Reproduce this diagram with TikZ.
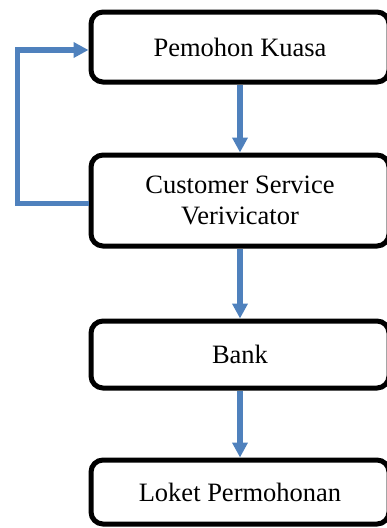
\documentclass[tikz,border=0pt]{standalone}
\usepackage{fontspec}
\setmainfont{Liberation Serif}
\usetikzlibrary{arrows.meta}
\definecolor{flowblue}{RGB}{79,129,189}
\begin{document}
\begin{tikzpicture}[x=1pt,y=1pt,
  stepbox/.style={draw=black, line width=5pt, rounded corners=12pt, fill=white,
    minimum width=298pt, align=center, inner sep=0pt,
    font=\fontsize{26.5}{31}\selectfont},
  flow/.style={draw=flowblue, line width=5.5pt,
    -{Triangle[width=15pt,length=15pt]}}]
  \useasboundingbox (0,0) rectangle (387,-528);
  % process boxes
  \node[stepbox, minimum height=70pt] (b1) at (240,-47) {Pemohon Kuasa};
  \node[stepbox, minimum height=91pt] (b2) at (240,-200.5) {Customer Service\\Verivicator};
  \node[stepbox, minimum height=67pt] (b3) at (240,-354.5) {Bank};
  \node[stepbox, minimum height=64pt] (b4) at (240,-492) {Loket Permohonan};
  % connectors
  \draw[flow] (b1.south) -- (b2.north);
  \draw[flow] (b2.south) -- (b3.north);
  \draw[flow] (b3.south) -- (b4.north);
  \draw[flow]
    ([yshift=-3pt]b2.west) -- ++(-71,0) |- ([yshift=-3pt]b1.west);
\end{tikzpicture}
\end{document}
